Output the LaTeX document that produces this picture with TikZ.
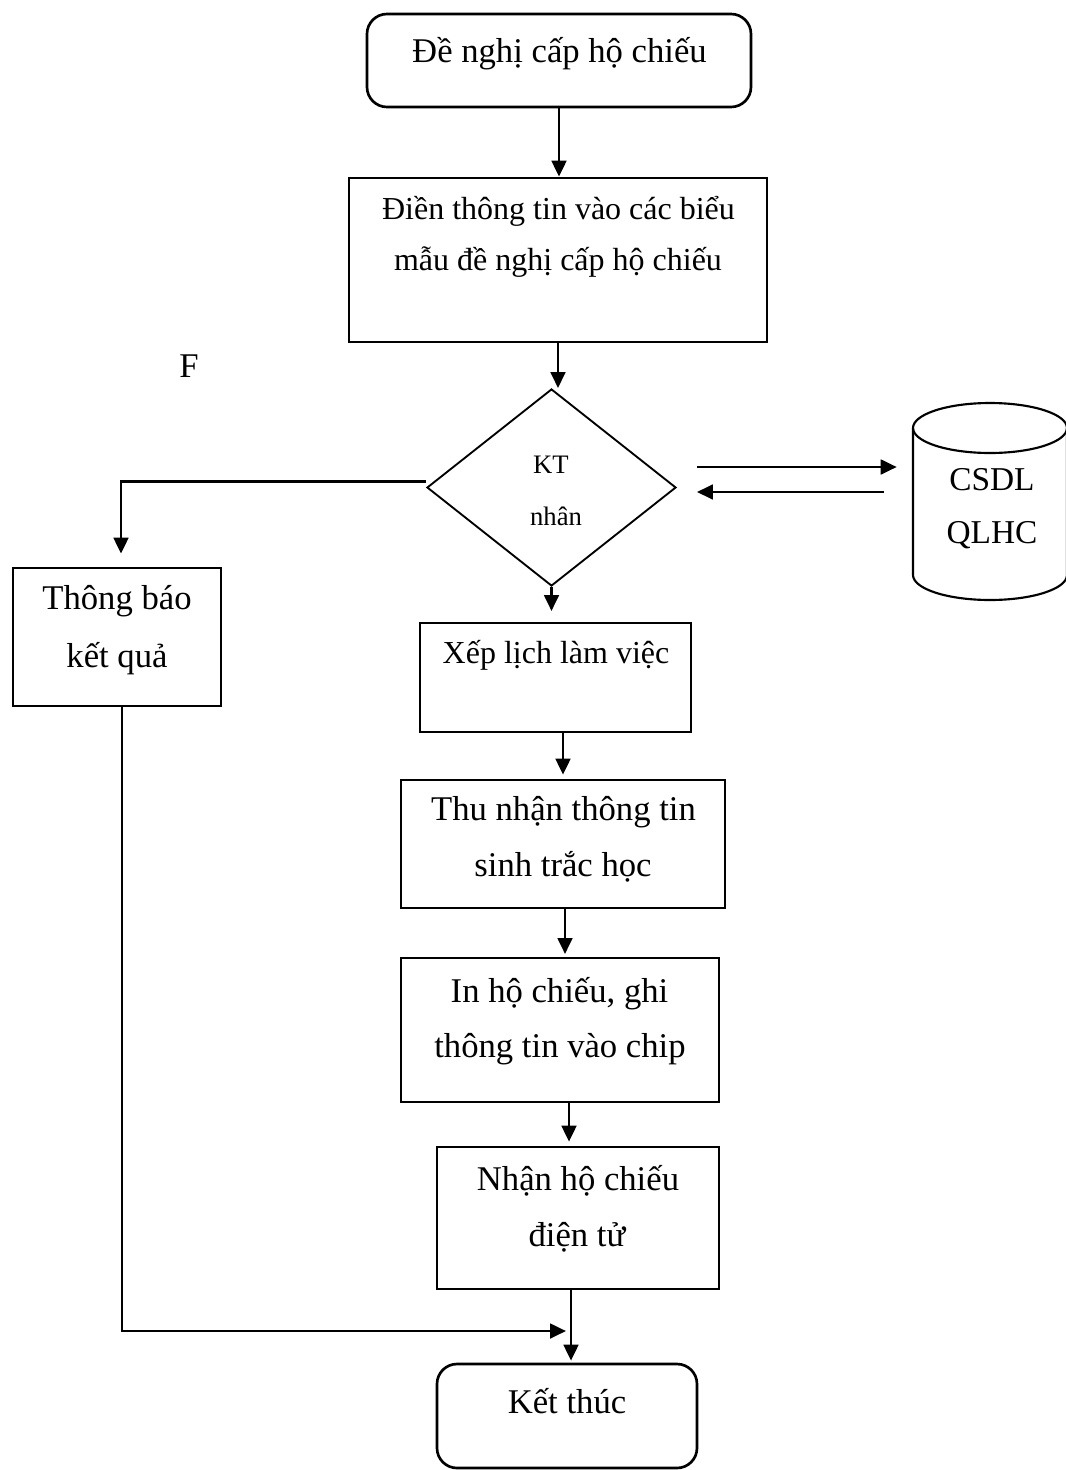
\documentclass[tikz,border=0pt]{standalone}
\usepackage{fontspec}
\setmainfont{Liberation Serif}
\usetikzlibrary{shapes.geometric,arrows.meta,calc}

\begin{document}
\begin{tikzpicture}[x=0.75pt,y=-0.75pt,
  box/.style={draw, line width=2pt, inner sep=0pt},
  rbox/.style={box, rounded corners=15pt},
  lbl/.style={anchor=base, inner sep=0pt},
  big/.style={font=\fontsize{26}{31}\selectfont},
  mid/.style={font=\fontsize{24}{29}\selectfont},
  small/.style={font=\fontsize{20}{24}\selectfont},
  arr/.style={line width=2.1pt, -{Triangle[length=12pt,width=11pt]}}]

\useasboundingbox (0,0) rectangle (1066,1470);

% process boxes
\node[rbox, minimum width=288pt, minimum height=69.75pt] (start) at (559,60.5) {};
\node[box, minimum width=313.5pt, minimum height=123pt] (fill) at (558,260) {};
\node[draw, line width=1.4pt, shape=diamond, inner sep=0pt,
      minimum width=186.75pt, minimum height=147.75pt] (dia) at (551.5,487.5) {};
\node[box, minimum width=156pt, minimum height=103.5pt] (tb) at (117,637) {};
\node[box, minimum width=203.25pt, minimum height=81.75pt] (xep) at (555.5,677.5) {};
\node[box, minimum width=243pt, minimum height=96pt] (thu) at (563,844) {};
\node[box, minimum width=238.5pt, minimum height=108pt] (inb) at (560,1030) {};
\node[box, minimum width=211.5pt, minimum height=106.5pt] (nhan) at (578,1218) {};
\node[rbox, minimum width=195pt, minimum height=78pt] (ket) at (567,1416) {};

% database cylinder
\node[inner sep=0pt, minimum width=115.5pt, minimum height=147.75pt] (db) at (990,501.5) {};
\draw[line width=1.6pt] (990,428) ellipse [x radius=57.75pt, y radius=18.75pt];
\draw[line width=1.6pt] (913,428) -- (913,575)
  arc [start angle=180, end angle=360, x radius=57.75pt, y radius=18.75pt]
  -- (1067,428);

% labels
\node[lbl, big] (tstart) at (559.5,63) {Đề nghị cấp hộ chiếu};
\node[lbl, mid] (tfill1) at (558.5,219) {Điền thông tin vào các biểu};
\node[lbl, mid] (tfill2) at (558,270) {mẫu đề nghị cấp hộ chiếu};
\node[lbl, big] (tf) at (189,377) {F};
\node[lbl, small] (tkt) at (551,473) {KT};
\node[lbl, small] (tnhan) at (556,525) {nhân};
\node[lbl, font=\fontsize{25}{30}\selectfont] (tdb1) at (992,490) {CSDL};
\node[lbl, font=\fontsize{25}{30}\selectfont] (tdb2) at (992,543) {QLHC};
\node[lbl, big] (ttb1) at (117,609) {Thông báo};
\node[lbl, big] (ttb2) at (117,667) {kết quả};
\node[lbl, mid] (txep) at (556,663) {Xếp lịch làm việc};
\node[lbl, big] (tthu1) at (563.5,820) {Thu nhận thông tin};
\node[lbl, big] (tthu2) at (563,876) {sinh trắc học};
\node[lbl, big] (tin1) at (559.5,1002) {In hộ chiếu, ghi};
\node[lbl, big] (tin2) at (560,1057) {thông tin vào chip};
\node[lbl, big] (tnh1) at (578,1190) {Nhận hộ chiếu};
\node[lbl, big] (tnh2) at (577,1246) {điện tử};
\node[lbl, big] (tket) at (567,1413) {Kết thúc};

% main flow
\draw[arr] (start.south) -- (start.south |- fill.north);
\draw[arr] (fill.south) -- (fill.south |- dia.north);
\draw[arr, shorten >=8pt] (dia.south) -- (dia.south |- xep.north);
\draw[arr, shorten >=3pt] (xep.south -| thu.north) -- (thu.north);
\draw[arr, shorten >=2pt] ([xshift=1.5pt]thu.south) -- ([xshift=1.5pt]thu.south |- inb.north);
\draw[arr, shorten >=3pt] ([xshift=-6.75pt]nhan.north |- inb.south) -- ([xshift=-6.75pt]nhan.north);
\draw[arr, shorten >=1.5pt] ([xshift=3pt]ket.north |- nhan.south) -- ([xshift=3pt]ket.north);

% exchange with the database
\draw[arr] ($(dia.east)+(20,-20.5)$) -- ($(db.west)+(-16,-34.5)$);
\draw[arr] ($(db.west)+(-29,-9.5)$) -- ($(dia.east)+(20,4.5)$);

% rejection branch
\draw[arr, shorten >=9.75pt] ($(dia.west)+(0,-6)$) -| ([xshift=3pt]tb.north);
\coordinate (join) at (566,1331);
\draw[arr] ([xshift=3.75pt]tb.south) |- (join);

\end{tikzpicture}
\end{document}
